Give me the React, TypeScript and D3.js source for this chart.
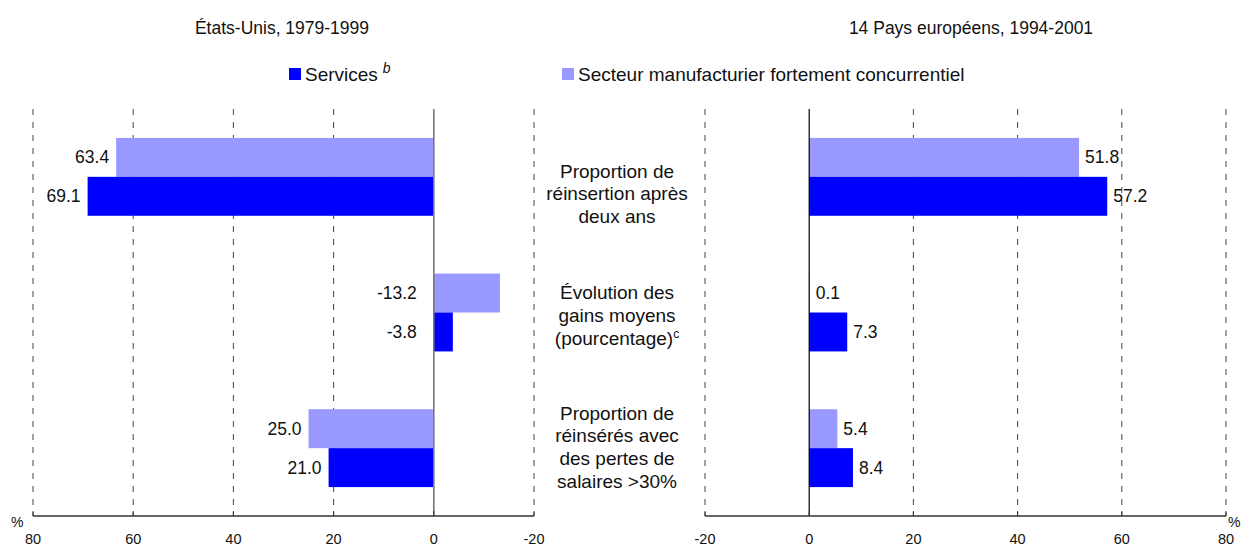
import * as d3 from "d3";

// chart values
const categories = ["reinsertion", "gains", "pertes"];
const categoryLines = [
  ["Proportion de", "réinsertion après", "deux ans"],
  ["Évolution des", "gains moyens", "(pourcentage)^c"],
  ["Proportion de", "réinsérés avec", "des pertes de", "salaires >30%"],
];
const seriesNames = ["Secteur manufacturier fortement concurrentiel", "Services"];
const usManufacturing = [63.4, -13.2, 25.0];
const usServices = [69.1, -3.8, 21.0];
const euManufacturing = [51.8, 0.1, 5.4];
const euServices = [57.2, 7.3, 8.4];
const leftTicks = [80, 60, 40, 20, 0, -20];
const rightTicks = [-20, 0, 20, 40, 60, 80];

const W = 1242;
const H = 547;
const FONT = "'Liberation Sans', Arial, sans-serif";
const DARK = "#0000FF";
const LIGHT = "#9999FF";
const labelShift = [17, 3, -1];

export default function App() {
  const top = 109;
  const bottom = 516;

  const xl = d3.scaleLinear().domain([80, -20]).range([33, 534]);
  const xr = d3.scaleLinear().domain([-20, 80]).range([705, 1226]);

  const y = d3
    .scaleBand<string>()
    .domain(categories)
    .range([top, bottom])
    .paddingInner(0.426)
    .paddingOuter(0.213);

  const sub = d3
    .scaleBand<number>()
    .domain([0, 1])
    .range([0, y.bandwidth()]);

  const fmt = (v: number) => v.toFixed(1);

  const panel = (
    x: d3.ScaleLinear<number, number>,
    ticks: number[],
    series: number[][],
    side: "left" | "right"
  ) => {
    const [r0, r1] = x.range();
    return (
      <g>
        {/* dashed gridlines */}
        {ticks
          .filter((t) => t !== 0)
          .map((t) => (
            <line
              key={"g" + t}
              x1={x(t)}
              x2={x(t)}
              y1={top}
              y2={bottom}
              stroke="#444"
              strokeWidth={1}
              strokeDasharray="6,7"
            />
          ))}
        {/* bars */}
        {series.map((vals, si) =>
          vals.map((v, i) => {
            const yy = y(categories[i])! + sub(si)!;
            const x0 = x(0);
            const x1 = x(v);
            return (
              <rect
                key={`b${si}-${i}`}
                x={Math.min(x0, x1)}
                y={yy}
                width={Math.abs(x1 - x0)}
                height={sub.bandwidth()}
                fill={si === 0 ? LIGHT : DARK}
              />
            );
          })
        )}
        {/* value labels */}
        {series.map((vals, si) =>
          vals.map((v, i) => {
            const yy = y(categories[i])! + sub(si)! + sub.bandwidth() / 2;
            let tx: number;
            let anchor: "start" | "end";
            if (side === "left") {
              anchor = "end";
              tx = v >= 0 ? x(v) - 7 : x(0) - 17;
            } else {
              anchor = "start";
              tx = x(v) + 6;
            }
            return (
              <text
                key={`l${si}-${i}`}
                x={tx}
                y={yy}
                dy="0.35em"
                textAnchor={anchor}
                fontSize={17.5}
                fill="#111"
              >
                {fmt(v)}
              </text>
            );
          })
        )}
        {/* zero line */}
        <line
          x1={x(0)}
          x2={x(0)}
          y1={top}
          y2={bottom}
          stroke={side === "left" ? "#777" : "#000"}
          strokeWidth={side === "left" ? 1.6 : 1.2}
        />
        {/* axis */}
        <line x1={r0} x2={r1} y1={bottom} y2={bottom} stroke="#333" strokeWidth={1.3} />
        {ticks.map((t) => (
          <g key={"t" + t}>
            <line x1={x(t)} x2={x(t)} y1={bottom - 5} y2={bottom} stroke="#333" />
            <text
              x={x(t)}
              y={544}
              textAnchor="middle"
              fontSize={14.5}
              fill="#111"
            >
              {t}
            </text>
          </g>
        ))}
        <text
          x={side === "left" ? 11 : 1228}
          y={527}
          fontSize={14}
          fill="#111"
        >
          %
        </text>
      </g>
    );
  };

  return (
    <svg
      width={W}
      height={H}
      style={{ position: "absolute", left: 0, top: 0, fontFamily: FONT }}
    >
      <rect width={W} height={H} fill="#fff" />
      <text x={282} y={34} textAnchor="middle" fontSize={17.5} fill="#111">
        États-Unis, 1979-1999
      </text>
      <text x={971} y={34} textAnchor="middle" fontSize={17.5} fill="#111">
        14 Pays européens, 1994-2001
      </text>

      {/* legend */}
      <rect x={289} y={68} width={12} height={12} fill={DARK} />
      <text x={305} y={81} fontSize={19} fill="#111">
        {seriesNames[1]}
        <tspan dx={5} dy={-8} fontSize={14} fontStyle="italic">
          b
        </tspan>
      </text>
      <rect x={562} y={68} width={12} height={12} fill={LIGHT} />
      <text x={578} y={81} fontSize={19} fill="#111">
        {seriesNames[0]}
      </text>

      {panel(xl, leftTicks, [usManufacturing, usServices], "left")}
      {panel(xr, rightTicks, [euManufacturing, euServices], "right")}

      {/* category labels */}
      {categoryLines.map((lines, i) => {
        const cy = y(categories[i])! + y.bandwidth() / 2 + labelShift[i];
        const step = 22.8;
        const first = cy - ((lines.length - 1) * step) / 2;
        return (
          <text
            key={"c" + i}
            textAnchor="middle"
            fontSize={19}
            fill="#111"
          >
            {lines.map((ln, j) => {
              const [main, sup] = ln.split("^");
              return (
                <tspan key={j} x={617} y={first + j * step} dy="0.35em">
                  {main}
                  {sup && (
                    <tspan dy="-0.6em" fontSize={12}>
                      {sup}
                    </tspan>
                  )}
                </tspan>
              );
            })}
          </text>
        );
      })}
    </svg>
  );
}
